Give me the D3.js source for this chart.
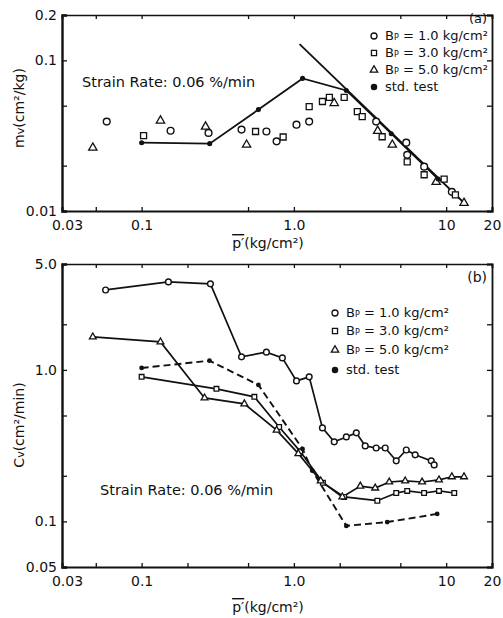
<!DOCTYPE html>
<html>
<head>
<meta charset="utf-8">
<script src="https://cdn.jsdelivr.net/npm/d3@7"></script>
<style>
  body { margin: 0; background: #fff; }
  text { font-family: "DejaVu Sans", sans-serif; fill: #111; }
</style>
</head>
<body>
<div id="chart"></div>
<script>
const width = 503;
const height = 618;

// ---- panel (a): mv vs p' ----
const mvStd = [[0.1, 0.0284], [0.28, 0.028], [0.585, 0.0471], [1.14, 0.0759], [2.21, 0.0631], [4.36, 0.0326], [8.86, 0.0163]];
const mvLine = [[1.09, 0.128], [13.5, 0.011]];
const mvBp1 = [[0.059, 0.0392], [0.155, 0.0341], [0.275, 0.033], [0.453, 0.0347], [0.66, 0.0337], [0.77, 0.029], [1.04, 0.0374], [1.26, 0.0392], [3.47, 0.0392], [5.47, 0.0284], [5.55, 0.0236], [7.17, 0.0197], [10.9, 0.0134]];
const mvBp3 = [[0.103, 0.0316], [0.56, 0.0337], [0.85, 0.031], [1.26, 0.0493], [1.54, 0.0533], [1.71, 0.0567], [2.14, 0.0567], [2.61, 0.0457], [2.81, 0.0423], [3.8, 0.0311], [5.55, 0.0212], [7.17, 0.0174], [9.7, 0.0163], [11.5, 0.0128]];
const mvBp5 = [[0.0478, 0.0263], [0.133, 0.0398], [0.263, 0.0363], [0.489, 0.0275], [1.84, 0.052], [3.55, 0.034], [4.43, 0.0275], [8.6, 0.0156], [13.1, 0.0113]];

// ---- panel (b): cv vs p' ----
const cvBp1 = [[0.058, 3.37], [0.15, 3.81], [0.283, 3.7], [0.453, 1.22], [0.66, 1.31], [0.84, 1.2], [1.04, 0.846], [1.26, 0.9], [1.54, 0.414], [1.84, 0.335], [2.21, 0.361], [2.57, 0.384], [2.94, 0.315], [3.47, 0.305], [3.98, 0.305], [4.7, 0.251], [5.47, 0.296], [6.26, 0.275], [7.98, 0.251], [8.34, 0.236]];
const cvBp3 = [[0.1, 0.9], [0.31, 0.75], [0.55, 0.664], [0.8, 0.42], [1.1, 0.29], [1.55, 0.18], [2.14, 0.145], [3.53, 0.137], [4.7, 0.154], [5.55, 0.159], [7.16, 0.154], [8.97, 0.159], [11.3, 0.154]];
const cvBp5 = [[0.0478, 1.65], [0.133, 1.53], [0.259, 0.653], [0.473, 0.597], [0.77, 0.4], [1.07, 0.28], [1.5, 0.185], [2.08, 0.145], [2.73, 0.171], [3.42, 0.166], [4.23, 0.182], [5.38, 0.185], [6.95, 0.182], [8.97, 0.188], [10.9, 0.197], [13.1, 0.197]];
const cvStd = [[0.1, 1.03], [0.279, 1.15], [0.585, 0.796], [1.14, 0.301], [1.32, 0.216], [2.21, 0.0934], [4.1, 0.099], [8.73, 0.112]];

// ticks
const xTicksA = [0.03, 0.05, 0.1, 0.5, 1, 5, 10, 20];
const xTicksB = [0.03, 0.05, 0.1, 0.2, 0.5, 1, 2, 5, 10, 20];
const xLabels = { 0.03: "0.03", 0.1: "0.1", 1: "1.0", 10: "10", 20: "20" };
const mvTicks = [0.01, 0.02, 0.05, 0.1, 0.2];
const mvLabels = { 0.01: "0.01", 0.1: "0.1", 0.2: "0.2" };
const cvTicks = [0.05, 0.1, 0.2, 0.5, 1, 2, 5];
const cvLabels = { 0.05: "0.05", 0.1: "0.1", 1: "1.0", 5: "5.0" };
const legendNames = ["1.0", "3.0", "5.0"];

const svg = d3.select("#chart")
  .append("svg")
  .attr("width", width)
  .attr("height", height);

const x = d3.scaleLog().domain([0.03, 20]).range([62, 492]);
const yA = d3.scaleLog().domain([0.01, 0.2]).range([211, 15]);
const yB = d3.scaleLog().domain([0.05, 5]).range([567, 264]);

function frame(y, xTicks, yTicks, yLab, top, bottom) {
  const g = svg.append("g");
  // bottom axis with labels, inward ticks
  const xb = g.append("g")
    .attr("transform", "translate(0," + bottom + ")")
    .call(d3.axisBottom(x).tickValues(xTicks).tickSize(-4).tickPadding(9)
      .tickFormat((d) => xLabels[d] || ""));
  xb.select(".domain").attr("stroke-width", 2);
  xb.selectAll("text").style("font-size", "14px").attr("font-family", null);
  xb.selectAll(".tick text").filter((d) => d == 0.03).attr("dx", 5);
  const xt = g.append("g")
    .attr("transform", "translate(0," + top + ")")
    .call(d3.axisTop(x).tickValues(xTicks).tickSize(-4).tickFormat(""));
  xt.select(".domain").attr("stroke-width", 1.6);
  const yl = g.append("g")
    .attr("transform", "translate(62,0)")
    .call(d3.axisLeft(y).tickValues(yTicks).tickSize(-5).tickPadding(5)
      .tickFormat((d) => yLab[d] || ""));
  yl.select(".domain").attr("stroke-width", 2.4);
  yl.selectAll("text").style("font-size", "14px").attr("font-family", null);
  const yr = g.append("g")
    .attr("transform", "translate(492,0)")
    .call(d3.axisRight(y).tickValues(yTicks).tickSize(-5).tickFormat(""));
  yr.select(".domain").attr("stroke-width", 1.8);
  g.selectAll(".domain").attr("stroke", "#111");
  g.selectAll(".tick line").attr("stroke", "#111").attr("stroke-width", 1.3);
}

frame(yA, xTicksA, mvTicks, mvLabels, 15, 211);
frame(yB, xTicksB, cvTicks, cvLabels, 264, 567);

function line(y) {
  return d3.line().x((d) => x(d[0])).y((d) => y(d[1]));
}

const sym = {
  circle: null,
  square: d3.symbol(d3.symbolSquare),
  triangle: d3.symbol(d3.symbolTriangle)
};

function markers(g, data, y, shape, size) {
  if (shape == "circle") {
    g.selectAll(null).data(data).enter().append("circle")
      .attr("cx", (d) => x(d[0]))
      .attr("cy", (d) => y(d[1]))
      .attr("r", Math.sqrt(size / Math.PI))
      .attr("fill", "#fff").attr("stroke", "#111").attr("stroke-width", 1.4);
  } else if (shape == "dot") {
    g.selectAll(null).data(data).enter().append("circle")
      .attr("cx", (d) => x(d[0]))
      .attr("cy", (d) => y(d[1]))
      .attr("r", Math.sqrt(size / Math.PI))
      .attr("fill", "#111");
  } else {
    g.selectAll(null).data(data).enter().append("path")
      .attr("d", sym[shape].size(size))
      .attr("transform", (d) => "translate(" + x(d[0]) + "," + y(d[1]) + ")")
      .attr("fill", "#fff").attr("stroke", "#111").attr("stroke-width", 1.3);
  }
}

//--------------- panel (a) ---------------
const pa = svg.append("g");
pa.append("path").datum(mvLine).attr("d", line(yA))
  .attr("fill", "none").attr("stroke", "#111").attr("stroke-width", 1.8);
pa.append("path").datum(mvStd).attr("d", line(yA))
  .attr("fill", "none").attr("stroke", "#111").attr("stroke-width", 1.8);
markers(pa, mvBp1, yA, "circle", 36);
markers(pa, mvBp3, yA, "square", 36);
markers(pa, mvBp5, yA, "triangle", 30);
markers(pa, mvStd, yA, "dot", 20);

//--------------- panel (b) ---------------
const pb = svg.append("g");
[cvBp1, cvBp3, cvBp5].forEach((s) => {
  pb.append("path").datum(s).attr("d", line(yB))
    .attr("fill", "none").attr("stroke", "#111").attr("stroke-width", 1.7);
});
pb.append("path").datum(cvStd).attr("d", line(yB))
  .attr("fill", "none").attr("stroke", "#111").attr("stroke-width", 1.9)
  .attr("stroke-dasharray", "7,4");
markers(pb, cvBp1, yB, "circle", 26);
markers(pb, cvBp3, yB, "square", 22);
markers(pb, cvBp5, yB, "triangle", 20);
markers(pb, cvStd, yB, "dot", 18);

// legends
function legend(lx, rows, shapes) {
  const g = svg.append("g");
  shapes.forEach((s, i) => {
    const ly = rows[i];
    if (s == "circle" || s == "dot") {
      g.append("circle").attr("cx", lx).attr("cy", ly).attr("r", s == "dot" ? 2.6 : 3)
        .attr("fill", s == "dot" ? "#111" : "#fff").attr("stroke", "#111").attr("stroke-width", 1.3);
    } else {
      g.append("path").attr("d", sym[s].size(s == "square" ? 26 : 24))
        .attr("transform", "translate(" + lx + "," + ly + ")")
        .attr("fill", "#fff").attr("stroke", "#111").attr("stroke-width", 1.3);
    }
    const t = g.append("text").attr("x", lx + 11).attr("y", ly + 4).style("font-size", "13px");
    if (i < 3) {
      t.append("tspan").text("B");
      t.append("tspan").text("P").style("font-size", "8px");
      t.append("tspan").text(" = " + legendNames[i] + " kg/cm²");
    } else {
      t.text("std. test");
    }
  });
}
legend(374, [36, 53, 70, 87], ["circle", "square", "triangle", "dot"]);
legend(335, [313, 331, 350, 370], ["circle", "square", "triangle", "dot"]);

svg.append("text").text("(a)").attr("x", 487).attr("y", 23)
  .attr("text-anchor", "end").style("font-size", "13px");
svg.append("text").text("(b)").attr("x", 487).attr("y", 282)
  .attr("text-anchor", "end").style("font-size", "14px");

svg.append("text").text("Strain Rate: 0.06 %/min").attr("x", 82).attr("y", 87)
  .style("font-size", "14.5px");
svg.append("text").text("Strain Rate: 0.06 %/min").attr("x", 100).attr("y", 495)
  .style("font-size", "14.5px");

// axis titles
function xTitle(ty) {
  const t = svg.append("text").attr("x", 268).attr("y", ty)
    .attr("text-anchor", "middle").style("font-size", "14px");
  t.append("tspan").text("p′").style("text-decoration", "overline");
  t.append("tspan").text("(kg/cm²)");
}
xTitle(248);
xTitle(612);

function yTitle(cy, a, b, c) {
  const t = svg.append("text")
    .attr("transform", "translate(24," + cy + ") rotate(-90)")
    .attr("text-anchor", "middle").style("font-size", "14px");
  t.append("tspan").text(a);
  t.append("tspan").text(b).style("font-size", "11px");
  t.append("tspan").text(c);
}
yTitle(108, "m", "v", "(cm²/kg)");
yTitle(425, "C", "v", "(cm²/min)");
</script>
</body>
</html>
